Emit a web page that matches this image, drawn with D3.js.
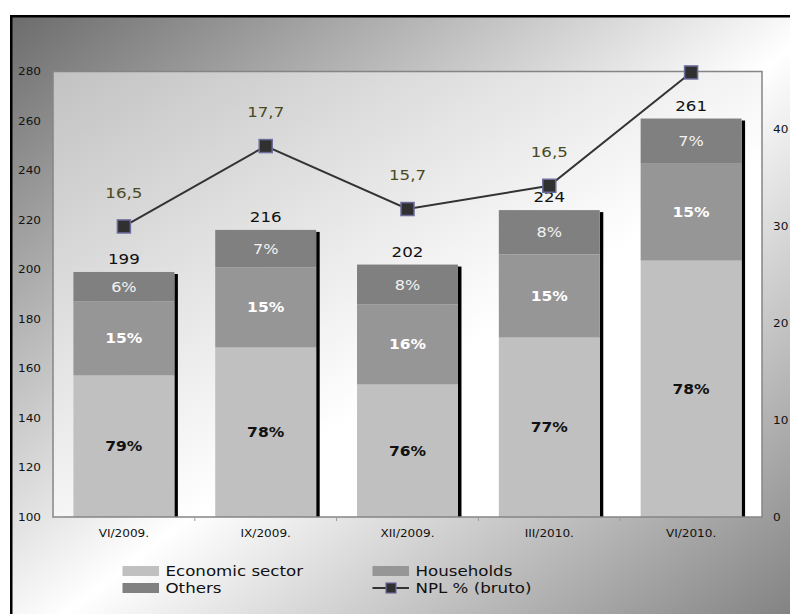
<!DOCTYPE html>
<html>
<head>
<meta charset="utf-8">
<script src="https://cdn.jsdelivr.net/npm/d3@7"></script>
<style>
  html, body { margin: 0; padding: 0; background: #ffffff; }
  svg { display: block; font-family: "DejaVu Sans", Verdana, sans-serif; }
  .wide { transform-box: fill-box; transform-origin: center; transform: scaleX(1.15); }
  .wide-end { transform-box: fill-box; transform-origin: right center; transform: scaleX(1.15); }
  .wide-start { transform-box: fill-box; transform-origin: left center; transform: scaleX(1.15); }
</style>
</head>
<body>
<svg id="chart" width="790" height="614"></svg>
<script>
// Quarterly NPL structure: stacked shares by borrower group plus NPL ratio line
const categories = ["VI/2009.", "IX/2009.", "XII/2009.", "III/2010.", "VI/2010."];
const totals = [199, 216, 202, 224, 261];
const economicPct = [79, 78, 76, 77, 78];
const householdsPct = [15, 15, 16, 15, 15];
const othersPct = [6, 7, 8, 8, 7];
const nplValues = [30.0, 38.3, 31.8, 34.2, 45.9];
const nplLabels = ["16,5", "17,7", "15,7", "16,5", ""];
const leftTicks = [100, 120, 140, 160, 180, 200, 220, 240, 260, 280];
const rightTicks = [0, 10, 20, 30, 40];
const seriesNames = ["Economic sector", "Households", "Others", "NPL % (bruto)"];

const colors = { econ: "#c0c0c0", house: "#969696", others: "#808080" };

const svg = d3.select("#chart");
const defs = svg.append("defs");

// Frame background: dark corners, light diagonal band
const bg = defs.append("linearGradient").attr("id", "bgGrad")
  .attr("x1", 0).attr("y1", 0).attr("x2", 1).attr("y2", 1);
bg.append("stop").attr("offset", 0).attr("stop-color", "#6c6c6c");
bg.append("stop").attr("offset", 0.5).attr("stop-color", "#ffffff");
bg.append("stop").attr("offset", 1).attr("stop-color", "#737373");

const pg = defs.append("linearGradient").attr("id", "plotGrad")
  .attr("x1", 0).attr("y1", 0).attr("x2", 0.6).attr("y2", 0.6);
pg.append("stop").attr("offset", 0).attr("stop-color", "#c2c2c2");
pg.append("stop").attr("offset", 1).attr("stop-color", "#ffffff");

svg.append("rect")
  .attr("x", 11.25).attr("y", 16.25).attr("width", 820).attr("height", 640)
  .attr("fill", "url(#bgGrad)").attr("stroke", "#000").attr("stroke-width", 2.5);

const plot = { left: 53, right: 762, top: 71.5, bottom: 517 };

const x = d3.scaleBand().domain(categories)
  .range([plot.left, plot.right]).paddingInner(0.288).paddingOuter(0.144);
const yL = d3.scaleLinear().domain([100, 280]).range([plot.bottom, plot.top]);
const yR = d3.scaleLinear().domain([0, 46]).range([plot.bottom, plot.top]);

defs.append("clipPath").attr("id", "plotClip").append("rect")
  .attr("x", plot.left).attr("y", plot.top)
  .attr("width", plot.right - plot.left).attr("height", plot.bottom - plot.top);

svg.append("rect")
  .attr("x", plot.left).attr("y", plot.top)
  .attr("width", plot.right - plot.left).attr("height", plot.bottom - plot.top)
  .attr("fill", "url(#plotGrad)");

// Stacked amounts from totals and shares
const rows = categories.map((c, i) => {
  const econ = totals[i] * economicPct[i] / 100;
  const house = totals[i] * householdsPct[i] / 100;
  const oth = totals[i] * othersPct[i] / 100;
  return { cat: c, total: totals[i], econ, house, oth,
           pe: economicPct[i], ph: householdsPct[i], po: othersPct[i] };
});

const bw = x.bandwidth();
const barG = svg.append("g").attr("clip-path", "url(#plotClip)");

// shadow strip on the right side of each column
barG.selectAll("rect.shadow").data(rows).join("rect").attr("class", "shadow")
  .attr("x", d => x(d.cat) + bw).attr("width", 3.5)
  .attr("y", d => yL(d.total) + 2)
  .attr("height", d => plot.bottom - yL(d.total) - 2)
  .attr("fill", "#000");

const segs = [
  { key: "econ", lo: d => 0, hi: d => d.econ, color: colors.econ },
  { key: "house", lo: d => d.econ, hi: d => d.econ + d.house, color: colors.house },
  { key: "oth", lo: d => d.econ + d.house, hi: d => d.total, color: colors.others }
];
segs.forEach(s => {
  barG.selectAll("rect." + s.key).data(rows).join("rect").attr("class", s.key)
    .attr("x", d => x(d.cat)).attr("width", bw)
    .attr("y", d => yL(s.hi(d)))
    .attr("height", d => yL(s.lo(d)) - yL(s.hi(d)))
    .attr("fill", s.color);
});

// plot border
svg.append("rect")
  .attr("x", plot.left).attr("y", plot.top)
  .attr("width", plot.right - plot.left).attr("height", plot.bottom - plot.top)
  .attr("fill", "none").attr("stroke", "#858585").attr("stroke-width", 1.5);

// share labels inside segments
const mid = (a, b) => (Math.min(yL(a), plot.bottom) + yL(b)) / 2;
const lab = svg.append("g").attr("text-anchor", "middle");
lab.selectAll("text.pe").data(rows).join("text").attr("class", "wide")
  .attr("x", d => x(d.cat) + bw / 2).attr("y", d => mid(0, d.econ)).attr("dy", "0.36em")
  .attr("font-size", 13.5).attr("font-weight", "bold").attr("fill", "#111")
  .text(d => d.pe + "%");
lab.selectAll("text.ph").data(rows).join("text").attr("class", "wide")
  .attr("x", d => x(d.cat) + bw / 2).attr("y", d => mid(d.econ, d.econ + d.house)).attr("dy", "0.36em")
  .attr("font-size", 13.5).attr("font-weight", "bold").attr("fill", "#ffffff")
  .text(d => d.ph + "%");
lab.selectAll("text.po").data(rows).join("text").attr("class", "wide")
  .attr("x", d => x(d.cat) + bw / 2).attr("y", d => mid(d.econ + d.house, d.total)).attr("dy", "0.36em")
  .attr("font-size", 14).attr("fill", "#f2f2f2")
  .text(d => d.po + "%");
lab.selectAll("text.tot").data(rows).join("text").attr("class", "wide")
  .attr("x", d => x(d.cat) + bw / 2).attr("y", d => yL(d.total) - 8)
  .attr("font-size", 14.5).attr("fill", "#111")
  .text(d => d.total);

// NPL ratio line
const cx = c => x(c) + bw / 2;
const line = d3.line().x((d, i) => cx(categories[i])).y(d => yR(d));
svg.append("path").datum(nplValues).attr("d", line)
  .attr("fill", "none").attr("stroke", "#333333").attr("stroke-width", 2);
const ms = 13;
svg.selectAll("rect.mk").data(nplValues).join("rect").attr("class", "mk")
  .attr("x", (d, i) => cx(categories[i]) - ms / 2).attr("y", d => yR(d) - ms / 2)
  .attr("width", ms).attr("height", ms)
  .attr("fill", "#303030").attr("stroke", "#6b6b9c").attr("stroke-width", 1.5);
svg.append("g").attr("text-anchor", "middle")
  .selectAll("text").data(nplValues).join("text").attr("class", "wide")
  .attr("x", (d, i) => cx(categories[i])).attr("y", d => yR(d) - 34).attr("dy", "0.36em")
  .attr("font-size", 14.5).attr("fill", "#4a4a22")
  .text((d, i) => nplLabels[i]);

// axes
const axL = svg.append("g").attr("transform", `translate(${plot.left},0)`)
  .call(d3.axisLeft(yL).tickValues(leftTicks).tickSize(0).tickPadding(12));
const axR = svg.append("g").attr("transform", `translate(${plot.right},0)`)
  .call(d3.axisRight(yR).tickValues(rightTicks).tickSize(0).tickPadding(11));
const axB = svg.append("g").attr("transform", `translate(0,${plot.bottom})`)
  .call(d3.axisBottom(x).tickSize(0).tickPadding(13));
[axL, axR, axB].forEach(a => {
  a.select(".domain").remove();
  a.selectAll("text").attr("font-size", 10.5).attr("fill", "#111")
    .attr("font-family", "DejaVu Sans, sans-serif");
});
axL.selectAll("text").attr("class", "wide-end");
axR.selectAll("text").attr("class", "wide-start");
axB.selectAll("text").attr("class", "wide");

// category boundary ticks below the axis
const bounds = categories.slice(1).map(c => x(c) - x.step() * x.paddingInner() / 2);
svg.selectAll("line.bt").data(bounds).join("line").attr("class", "bt")
  .attr("x1", d => d).attr("x2", d => d)
  .attr("y1", plot.bottom).attr("y2", plot.bottom + 4)
  .attr("stroke", "#9a9a9a").attr("stroke-width", 1);

// legend
const leg = svg.append("g").attr("font-size", 14.5).attr("fill", "#111");
const legItems = [
  { name: seriesNames[0], color: colors.econ, x: 122.5, y: 571 },
  { name: seriesNames[1], color: colors.house, x: 372.5, y: 571 },
  { name: seriesNames[2], color: colors.others, x: 122.5, y: 588 }
];
legItems.forEach(it => {
  leg.append("rect").attr("x", it.x).attr("y", it.y - 5).attr("width", 36.5).attr("height", 10)
    .attr("fill", it.color);
  leg.append("text").attr("class", "wide-start").attr("x", it.x + 43).attr("y", it.y)
    .attr("dy", "0.36em").text(it.name);
});
leg.append("line").attr("x1", 372.5).attr("x2", 409).attr("y1", 588).attr("y2", 588)
  .attr("stroke", "#333").attr("stroke-width", 2);
leg.append("rect").attr("x", 386).attr("y", 583).attr("width", 10).attr("height", 10)
  .attr("fill", "#303030").attr("stroke", "#6b6b9c").attr("stroke-width", 1.2);
leg.append("text").attr("class", "wide-start").attr("x", 415.5).attr("y", 588)
  .attr("dy", "0.36em").text(seriesNames[3]);
</script>
</body>
</html>
